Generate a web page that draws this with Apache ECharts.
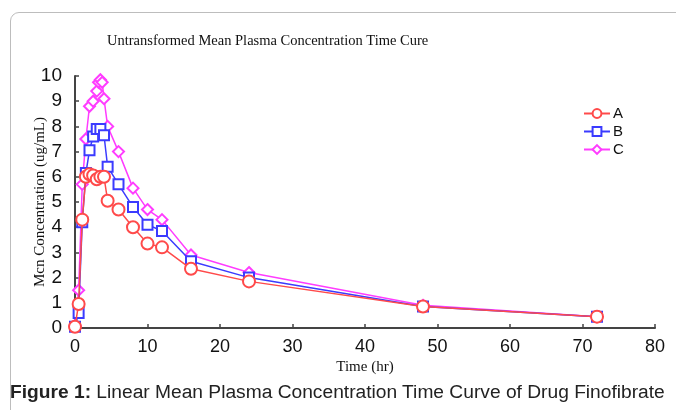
<!DOCTYPE html>
<html><head><meta charset="utf-8">
<script src="https://cdn.jsdelivr.net/npm/echarts@6/dist/echarts.min.js"></script>
<style>
html,body{margin:0;padding:0;background:#fff;}
#frame{position:absolute;left:10px;top:12px;width:700px;height:420px;border:1px solid #bdbdbd;border-radius:9px;}
#chart{position:absolute;left:0;top:0;width:676px;height:410px;}
#cap{position:absolute;left:10px;top:381px;font-family:"Liberation Sans",Arial,sans-serif;font-size:19.2px;color:#222;white-space:nowrap;}
</style></head>
<body>
<div id="frame"></div>
<div id="chart"></div>
<div id="cap"><b>Figure 1:</b> Linear Mean Plasma Concentration Time Curve of Drug Finofibrate</div>
<script>
const seriesNames = ['A','B','C'];
const timeA = [0,0.5,1,1.5,2,2.5,3,3.5,4,4.5,6,8,10,12,16,24,48,72];
const concA = [0.05,0.95,4.3,6.0,6.1,6.05,5.9,6.0,6.0,5.05,4.7,4.0,3.35,3.2,2.35,1.85,0.85,0.45];
const timeB = [0,0.5,1,1.5,2,2.5,3,3.5,4,4.5,6,8,10,12,16,24,48,72];
const concB = [0.05,0.6,4.2,6.15,7.05,7.6,7.9,7.9,7.65,6.4,5.7,4.8,4.1,3.85,2.65,2.0,0.85,0.45];
const timeC = [0,0.5,1,1.5,2,2.5,3,3.25,3.5,3.75,4,4.5,6,8,10,12,16,24,48,72];
const concC = [0.1,1.5,5.7,7.5,8.8,9.0,9.4,9.75,9.85,9.75,9.1,8.0,7.0,5.55,4.7,4.3,2.9,2.2,0.9,0.45];
const xTicks = [0,10,20,30,40,50,60,70,80];
const yTicks = [0,1,2,3,4,5,6,7,8,9,10];

function pairs(t,c){return t.map((v,i)=>[v,c[i]]);}
const colors = ['#ff4a4a','#3b3bff','#ff3cff'];
const symbols = ['emptyCircle','emptyRect','emptyDiamond'];
const sizes = [12,10,11];
const data = [pairs(timeA,concA),pairs(timeB,concB),pairs(timeC,concC)];

const chart = echarts.init(document.getElementById('chart'));
chart.setOption({
  animation:false,
  title:{text:'Untransformed Mean Plasma Concentration Time Cure',left:102,top:29,
    textStyle:{fontFamily:'Liberation Serif',fontSize:14.5,fontWeight:'normal',color:'#111'}},
  legend:{orient:'vertical',left:578,top:101,itemWidth:26,itemHeight:11,itemGap:3,
    data:seriesNames,textStyle:{fontFamily:'Liberation Sans',fontSize:15,color:'#111',padding:[0,0,0,-2]}},
  grid:{left:75,right:21,top:76,bottom:82,containLabel:false},
  xAxis:{type:'value',min:0,max:80,interval:10,
    name:'Time (hr)',nameLocation:'middle',nameGap:32,nameMoveOverlap:false,
    nameTextStyle:{fontFamily:'Liberation Serif',fontSize:15,color:'#111'},
    axisLine:{lineStyle:{color:'#444',width:2}},
    axisTick:{show:true,inside:true,length:4,lineStyle:{color:'#444',width:1.5}},
    axisLabel:{fontFamily:'Liberation Sans',fontSize:18,color:'#111',margin:10,
      formatter:v=>xTicks.includes(v)?String(v):''},
    splitLine:{show:false}},
  yAxis:{type:'value',min:0,max:10,interval:1,
    name:'Mcn Concentration (ug/mL)',nameLocation:'middle',nameGap:27,nameMoveOverlap:false,
    nameTextStyle:{fontFamily:'Liberation Serif',fontSize:15,color:'#111'},
    axisLine:{show:true,lineStyle:{color:'#444',width:2}},
    axisTick:{show:true,inside:true,length:4,lineStyle:{color:'#444',width:1.5}},
    axisLabel:{fontFamily:'Liberation Sans',fontSize:19,color:'#111',margin:13,
      formatter:v=>yTicks.includes(v)?String(v):''},
    splitLine:{show:false}},
  series:seriesNames.map((n,i)=>({
    name:n,type:'line',data:data[i],symbol:symbols[i],symbolSize:sizes[i],
    z:[4,3,2][i],
    itemStyle:{color:colors[i],borderWidth:1.5},
    lineStyle:{color:colors[i],width:1.5}
  }))
});
</script>
</body></html>
